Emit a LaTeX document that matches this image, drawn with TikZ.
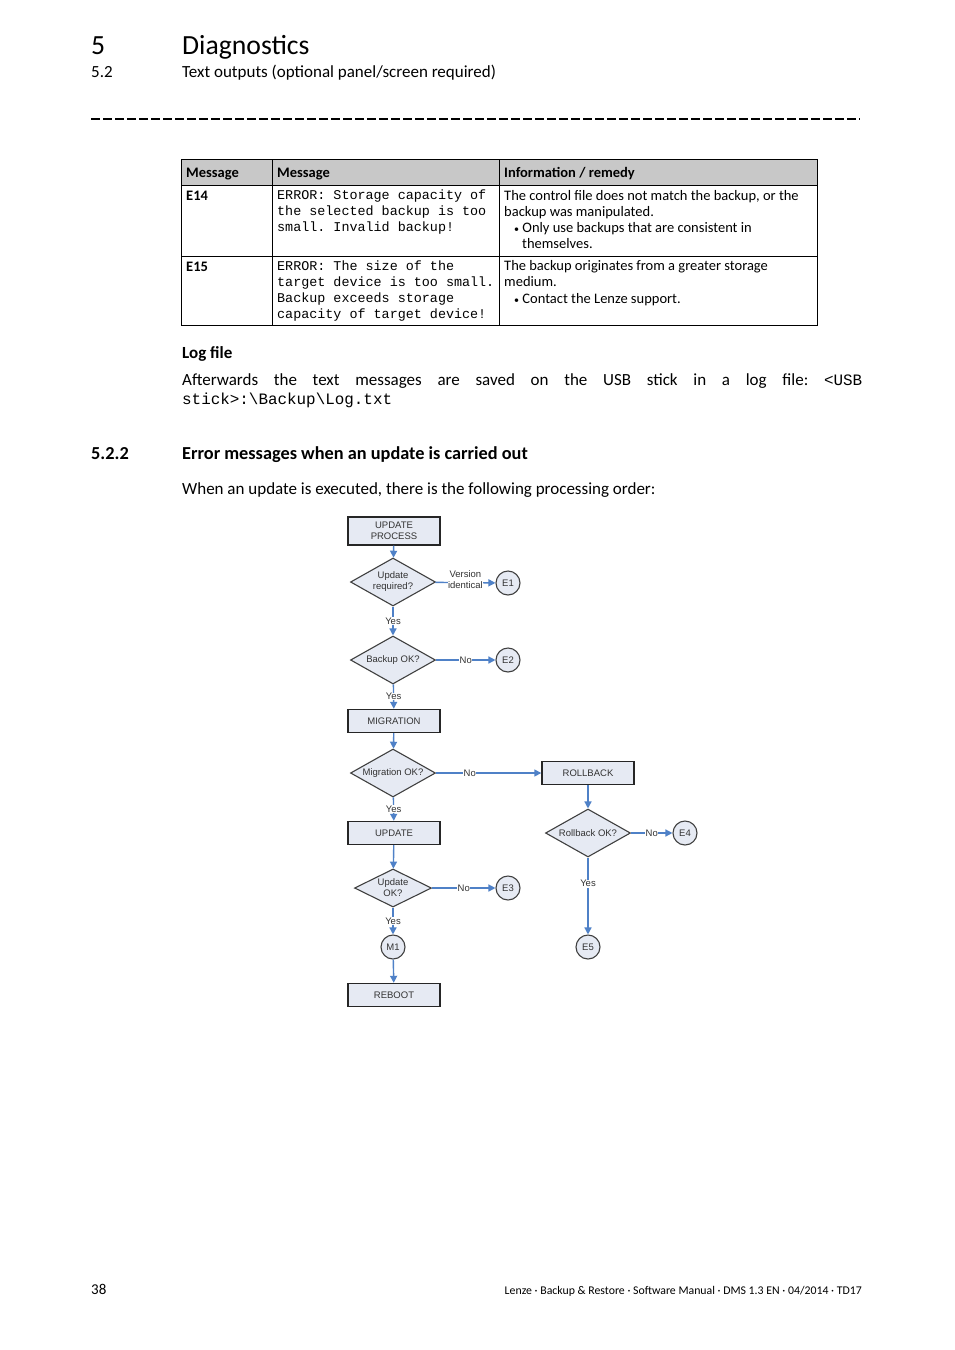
\documentclass[tikz,border=0pt]{standalone}
\usepackage{fontspec}
\setmainfont{Carlito}
\setmonofont{Liberation Mono}
\newfontfamily\chartfont{Liberation Sans}
\newfontfamily\pathfont{Liberation Mono}
\usetikzlibrary{arrows.meta, positioning, shapes.geometric}
\definecolor{boxFill}{HTML}{E6EAF3}
\definecolor{flowBlue}{HTML}{4F81C7}
\definecolor{headGray}{HTML}{C8C8C8}
\definecolor{chartText}{HTML}{333333}
\frenchspacing
\newcommand{\smallbul}{{\fontsize{10}{10}\selectfont\textbullet}}

\begin{document}
\begin{tikzpicture}[x=1pt, y=-1pt, every node/.style={inner sep=0pt},
  body/.style={font=\fontsize{17}{19}\selectfont},
  cell/.style={anchor=north west, align=left, font=\fontsize{14.5}{16.2}\selectfont},
  monocell/.style={anchor=north west, align=left, font=\ttfamily\fontsize{13.4}{16}\selectfont},
  procbox/.style={rectangle, draw=black!85, fill=boxFill, line width=1.4pt, minimum width=92pt,
    minimum height=23pt, align=center, text=chartText, font=\chartfont\fontsize{9.5}{11.5}\selectfont},
  decis/.style={diamond, shape aspect=1.8, draw=black!75, fill=boxFill, line width=1.1pt, minimum width=85pt,
    minimum height=48pt, align=center, text=chartText, font=\chartfont\fontsize{9.5}{11}\selectfont},
  endc/.style={circle, draw=black!75, fill=boxFill, line width=1.1pt, minimum size=24pt,
    text=chartText, font=\chartfont\fontsize{9.5}{11}\selectfont},
  flow/.style={draw=flowBlue, line width=1.4pt, -{Triangle[length=7pt, width=7pt]}},
  lbl/.style={fill=white, inner sep=0.5pt, align=center, text=chartText, font=\chartfont\fontsize{9.5}{10.5}\selectfont}]
  \useasboundingbox[fill=white] (0,0) rectangle (954,1350);

  \node[anchor=base west, font=\fontsize{27.7}{30}\selectfont] (chapno) at (91,54) {5};
  \node[anchor=base west, font=\fontsize{27.7}{30}\selectfont] (chaptitle) at (182,54) {Diagnostics};
  \node[anchor=base west, body] (secno) at (91,77) {5.2};
  \node[anchor=base west, body] (sectitle) at (182,77) {Text outputs (optional panel/screen required)};
  \draw[line width=1.3pt, dash pattern=on 9pt off 3pt] (91,119) -- (860,119);

  \fill[headGray] (181,159) rectangle (817,185);
  \draw[line width=0.9pt] (181,159) rectangle (817,325);
  \foreach \yy in {185, 256}{ \draw[line width=0.9pt] (181,\yy) -- (817,\yy); }
  \foreach \xx in {272, 499}{ \draw[line width=0.9pt] (\xx,159) -- (\xx,325); }
  \node[anchor=base west, font=\bfseries\fontsize{14.5}{16}\selectfont] (h1) at (186,177) {Message};
  \node[anchor=base west, font=\bfseries\fontsize{14.5}{16}\selectfont] (h2) at (277,177) {Message};
  \node[anchor=base west, font=\bfseries\fontsize{14.5}{16}\selectfont] (h3) at (504,177) {Information / remedy};
  \node[anchor=base west, font=\bfseries\fontsize{14.5}{16}\selectfont] (e14) at (186,200) {E14};
  \node[anchor=base west, font=\bfseries\fontsize{14.5}{16}\selectfont] (e15) at (186,271) {E15};
  \node[monocell] (m14) at (277,190) {ERROR: Storage capacity of\\the selected backup is too\\small. Invalid backup!};
  \node[monocell] (m15) at (277,261) {ERROR: The size of the\\target device is too small.\\Backup exceeds storage\\capacity of target device!};
  \node[cell] (r14) at (504,190) {The control file does not match the backup, or the\\backup was manipulated.\\\hspace*{10pt}\smallbul{} Only use backups that are consistent in\\\hspace*{18pt}themselves.};
  \node[cell] (r15) at (504,260.5) {The backup originates from a greater storage\\medium.\\\hspace*{10pt}\smallbul{} Contact the Lenze support.};

  \node[anchor=base west, font=\bfseries\fontsize{17}{19}\selectfont] (logtitle) at (182,358) {Log file};
  \node[anchor=base west, body] (logline1) at (182,385) {\makebox[680pt][s]{Afterwards the text messages are saved on the USB stick in a log file: {\pathfont\fontsize{15.9}{19}\selectfont<USB}}};
  \node[anchor=base west, font=\pathfont\fontsize{15.9}{19}\selectfont] (logline2) at (182,404) {stick>:\textbackslash Backup\textbackslash Log.txt};

  \node[anchor=base west, font=\bfseries\fontsize{18.3}{20}\selectfont] (subno) at (91,459) {5.2.2};
  \node[anchor=base west, font=\bfseries\fontsize{18.3}{20}\selectfont] (subtitle) at (182,459) {Error messages when an update is carried out};
  \node[anchor=base west, body] (intro) at (182,494) {When an update is executed, there is the following processing order:};

  \node[procbox, minimum height=28pt] (start) at (394,531) {UPDATE\\PROCESS};
  \node[decis] (askupd) at (393,582) {Update\\required?};
  \node[endc] (e1) at (508,583) {E1};
  \node[decis] (askbak) at (393,660) {Backup OK?};
  \node[endc] (e2) at (508,660) {E2};
  \node[procbox] (migr) at (394,721) {MIGRATION};
  \node[decis] (askmig) at (393,773) {Migration OK?};
  \node[procbox] (rollb) at (588,773) {ROLLBACK};
  \node[procbox] (upd) at (394,833) {UPDATE};
  \node[decis, minimum width=77pt, minimum height=38pt] (askok) at (393,888) {Update\\OK?};
  \node[endc] (e3) at (508,888) {E3};
  \node[endc] (m1) at (393,947) {M1};
  \node[procbox] (reboot) at (394,995) {REBOOT};
  \node[decis] (askroll) at (588,833) {Rollback OK?};
  \node[endc] (e4) at (685,833) {E4};
  \node[endc] (e5) at (588,947) {E5};

  \draw[flow] (start) -- (askupd);
  \draw[flow] (askupd) -- node[lbl, yshift=3pt] {Version\\identical} (e1);
  \draw[flow] (askupd) -- node[lbl] {Yes} (askbak);
  \draw[flow] (askbak) -- node[lbl] {No} (e2);
  \draw[flow] (askbak) -- node[lbl] {Yes} (migr);
  \draw[flow] (migr) -- (askmig);
  \draw[flow] (askmig) -- node[lbl, pos=0.32] {No} (rollb);
  \draw[flow] (askmig) -- node[lbl] {Yes} (upd);
  \draw[flow] (upd) -- (askok);
  \draw[flow] (askok) -- node[lbl] {No} (e3);
  \draw[flow] (askok) -- node[lbl] {Yes} (m1);
  \draw[flow] (m1) -- (reboot);
  \draw[flow] (rollb) -- (askroll);
  \draw[flow] (askroll) -- node[lbl] {No} (e4);
  \draw[flow] (askroll) -- node[lbl, pos=0.34] {Yes} (e5);

  \node[anchor=base west, font=\fontsize{15}{17}\selectfont] (pageno) at (91,1294) {38};
  \node[anchor=base east, font=\fontsize{11.8}{13}\selectfont] (footer) at (862,1294) {Lenze · Backup \& Restore · Software Manual · DMS 1.3 EN · 04/2014 · TD17};
\end{tikzpicture}
\end{document}
